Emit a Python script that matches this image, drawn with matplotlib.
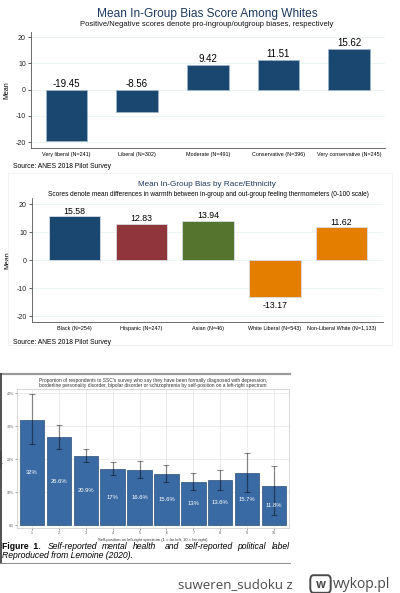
import numpy as np
import matplotlib
matplotlib.use("Agg")
import matplotlib.pyplot as plt
from matplotlib.patches import Rectangle, FancyBboxPatch

plt.rcParams['font.family'] = ['Liberation Sans', 'DejaVu Sans']

# --- data: chart 1 (ideology among whites)
ideo_labels = ["Very liberal (N=241)", "Liberal (N=302)", "Moderate (N=491)",
               "Conservative (N=396)", "Very conservative (N=245)"]
ideo_means = [-19.45, -8.56, 9.42, 11.51, 15.62]

# --- data: chart 2 (race / ethnicity)
race_labels = ["Black (N=254)", "Hispanic (N=247)", "Asian (N=46)",
               "White Liberal (N=543)", "Non-Liberal White (N=1,133)"]
race_means = [15.58, 12.83, 13.94, -13.17, 11.62]
race_colors = ["#1a476f", "#90353b", "#55752f", "#e37e00", "#e37e00"]

# --- data: chart 3 (SSC survey, diagnosed share by self-position)
pos = list(range(1, 11))
prop = [32, 26.6, 20.9, 17, 16.6, 15.6, 13, 13.6, 15.7, 11.8]
prop_lo = [24.7, 23.2, 19.2, 15.3, 14.3, 13.2, 10.5, 10.5, 9.9, 3.0]
prop_hi = [39.8, 30.4, 23.0, 19.1, 19.4, 18.3, 15.7, 16.6, 21.8, 18.0]
prop_text = ["32%", "26.6%", "20.9%", "17%", "16.6%", "15.6%", "13%",
             "13.6%", "15.7%", "11.8%"]

W, H = 400, 593
fig = plt.figure(figsize=(W / 100, H / 100), dpi=100)


def fx(x):
    return x / W


def fy(y):
    return 1 - y / H


def ax_at(x0, y0, x1, y1):
    return fig.add_axes([fx(x0), fy(y1), (x1 - x0) / W, (y1 - y0) / H])


def stata_axes(ax):
    ax.spines['top'].set_visible(False)
    ax.spines['right'].set_visible(False)
    for s in ('left', 'bottom'):
        ax.spines[s].set_color('#555555')
        ax.spines[s].set_linewidth(0.6)
    ax.set_yticks([-20, -10, 0, 10, 20])
    ax.set_yticklabels(["-20", "-10", "0", "10", "20"])
    ax.tick_params(axis='y', labelsize=5, length=2, width=0.5, pad=1.5, colors='#222222')
    ax.tick_params(axis='x', length=0, pad=3)
    ax.yaxis.grid(True, color='#eaf2f3', linewidth=0.6)
    ax.set_axisbelow(True)
    ax.set_ylabel("Mean", fontsize=5, labelpad=4)


# faint panel frame around chart 2
fig.patches.append(Rectangle((fx(8), fy(345)), (392 - 8) / W, (345 - 172.5) / H,
                             transform=fig.transFigure, fill=False,
                             edgecolor='#f1f1f1', linewidth=0.6))

# ---------------- chart 1
fig.text(fx(207), fy(13.5), "Mean In-Group Bias Score Among Whites", ha='center',
         va='center', fontsize=8.6, color='#1e3a5f')
fig.text(fx(207), fy(25), "Positive/Negative scores denote pro-ingroup/outgroup biases, respectively",
         ha='center', va='center', fontsize=5.5, color='#111111')
ax1 = ax_at(30.7, 31.7, 385, 148)
x1 = np.arange(len(ideo_means))
ax1.bar(x1, ideo_means, width=0.59, color='#1a476f', edgecolor='#9bb6cc', linewidth=0.6)
ax1.set_xlim(-0.507, 4.51)
ax1.set_ylim(-22.2, 22.1)
stata_axes(ax1)
ax1.set_xticks(x1)
ax1.set_xticklabels(ideo_labels, fontsize=3.9)
for xi, v in zip(x1, ideo_means):
    ax1.annotate(f"{v:.2f}", (xi, max(v, 0)), xytext=(0, 0.5), textcoords='offset points',
                 ha='center', va='bottom', fontsize=7)
fig.text(fx(13.3), fy(166.7), "Source: ANES 2018 Pilot Survey", ha='left', va='center',
         fontsize=4.9)

# ---------------- chart 2
fig.text(fx(207), fy(184.3), "Mean In-Group Bias by Race/Ethnicity", ha='center',
         va='center', fontsize=5.9, color='#1e3a5f')
fig.text(fx(208), fy(194), "Scores denote mean differences in warmth between in-group and out-group "
         "feeling thermometers (0-100 scale)", ha='center', va='center', fontsize=4.7)
ax2 = ax_at(31.7, 198.4, 383, 321.7)
x2 = np.arange(len(race_means))
ax2.bar(x2, race_means, width=0.77, color=race_colors, edgecolor='#d7dde3', linewidth=0.6)
ax2.set_xlim(-0.64, 4.62)
ax2.set_ylim(-22, 22)
stata_axes(ax2)
ax2.set_xticks(x2)
ax2.set_xticklabels(race_labels, fontsize=3.9)
for xi, v in zip(x2, race_means):
    if v >= 0:
        ax2.annotate(f"{v:.2f}", (xi, v), xytext=(0, 0.5), textcoords='offset points',
                     ha='center', va='bottom', fontsize=6.3)
    else:
        ax2.annotate(f"{v:.2f}", (xi, v), xytext=(0, -3), textcoords='offset points',
                     ha='center', va='top', fontsize=6.3)
fig.text(fx(13.3), fy(342.3), "Source: ANES 2018 Pilot Survey", ha='left', va='center',
         fontsize=4.9)

# ---------------- chart 3 (screenshot of a paper figure)
fig.add_artist(plt.Line2D([fx(0), fx(290)], [fy(374.3), fy(374.3)], color='#9a9a9a',
                          linewidth=1.6, transform=fig.transFigure))
fig.add_artist(plt.Line2D([fx(1), fx(1)], [fy(374), fy(563)], color='#333333',
                          linewidth=1.2, transform=fig.transFigure))
fig.add_artist(plt.Line2D([fx(0), fx(290)], [fy(563), fy(563)], color='#8a8a8a',
                          linewidth=0.7, transform=fig.transFigure))
fig.text(fx(153), fy(380.8), "Proportion of respondents to SSC's survey who say they have been "
         "formally diagnosed with depression,", ha='center', va='center', fontsize=3.5,
         color='#333333')
fig.text(fx(153), fy(385.3), "borderline personality disorder, bipolar disorder or schizophrenia "
         "by self-position on a left-right spectrum", ha='center', va='center', fontsize=3.5,
         color='#333333')
ax3 = ax_at(17, 389, 289, 528)
ax3.bar(pos, prop, width=0.9, color='#3a6aa4', edgecolor='#2c4f78', linewidth=0.5, zorder=2)
err = [np.array(prop) - np.array(prop_lo), np.array(prop_hi) - np.array(prop)]
ax3.errorbar(pos, prop, yerr=err, fmt='none', ecolor='black', alpha=0.45,
             elinewidth=0.9, capsize=2.5, capthick=0.8, zorder=3)
for p, v, t in zip(pos, prop, prop_text):
    ax3.text(p, v / 2, t, ha='center', va='center', fontsize=4.2, color='white', zorder=4)
ax3.set_xlim(0.45, 10.55)
ax3.set_ylim(-0.9, 41.3)
ax3.set_xticks(pos)
ax3.set_xticklabels([str(p) for p in pos])
ax3.set_yticks([0, 10, 20, 30, 40])
ax3.set_yticklabels(["0%", "10%", "20%", "30%", "40%"])
ax3.tick_params(labelsize=2.6, length=1.2, width=0.4, pad=1, colors='#555555')
ax3.grid(True, color='#e4e4e4', linewidth=0.5, zorder=0)
ax3.set_axisbelow(True)
for s in ax3.spines.values():
    s.set_color('#d0d0d0')
    s.set_linewidth(0.6)
ax3.set_xlabel("Self-position on left-right spectrum (1 = far left, 10 = far right)",
               fontsize=3, labelpad=2, color='#333333')
ax3.set_ylabel("Proportion", fontsize=3, labelpad=2, color='#333333')

# caption, justified on the first line
fig.text(fx(1.7), fy(546.7), "Figure  1.", ha='left', va='center', fontsize=6.2,
         fontweight='bold')
cap_words = ["Self-reported", "mental", "health", "and", "self-reported", "political", "label"]
cap_x = [47.7, 101.7, 133, 165, 185, 237, 272]
for w_, xx in zip(cap_words, cap_x):
    fig.text(fx(xx), fy(546.7), w_, ha='left', va='center', fontsize=6.2, style='italic')
fig.text(fx(1.7), fy(555.2), "Reproduced from Lemoine (2020).", ha='left', va='center',
         fontsize=6.2, style='italic')

# watermark
fig.text(fx(293), fy(585), "suweren_sudoku z", ha='right', va='center', fontsize=9.5,
         color='#4a4a4a', family=['Open Sans', 'DejaVu Sans'])
fig.patches.append(FancyBboxPatch((fx(311.5), fy(591)), 18 / W, 14 / H,
                                  boxstyle="round,pad=0.003,rounding_size=0.008",
                                  transform=fig.transFigure, fill=False,
                                  edgecolor='#4a4a4a', linewidth=1.4))
fig.text(fx(320.5), fy(584.3), "w", ha='center', va='center', fontsize=8.5, fontweight='bold',
         color='#4a4a4a', family=['Open Sans', 'DejaVu Sans'])
fig.text(fx(333), fy(584.5), "wykop.pl", ha='left', va='center', fontsize=10,
         color='#4a4a4a', family=['Open Sans', 'DejaVu Sans'])

fig.savefig("out.png", dpi=100)
